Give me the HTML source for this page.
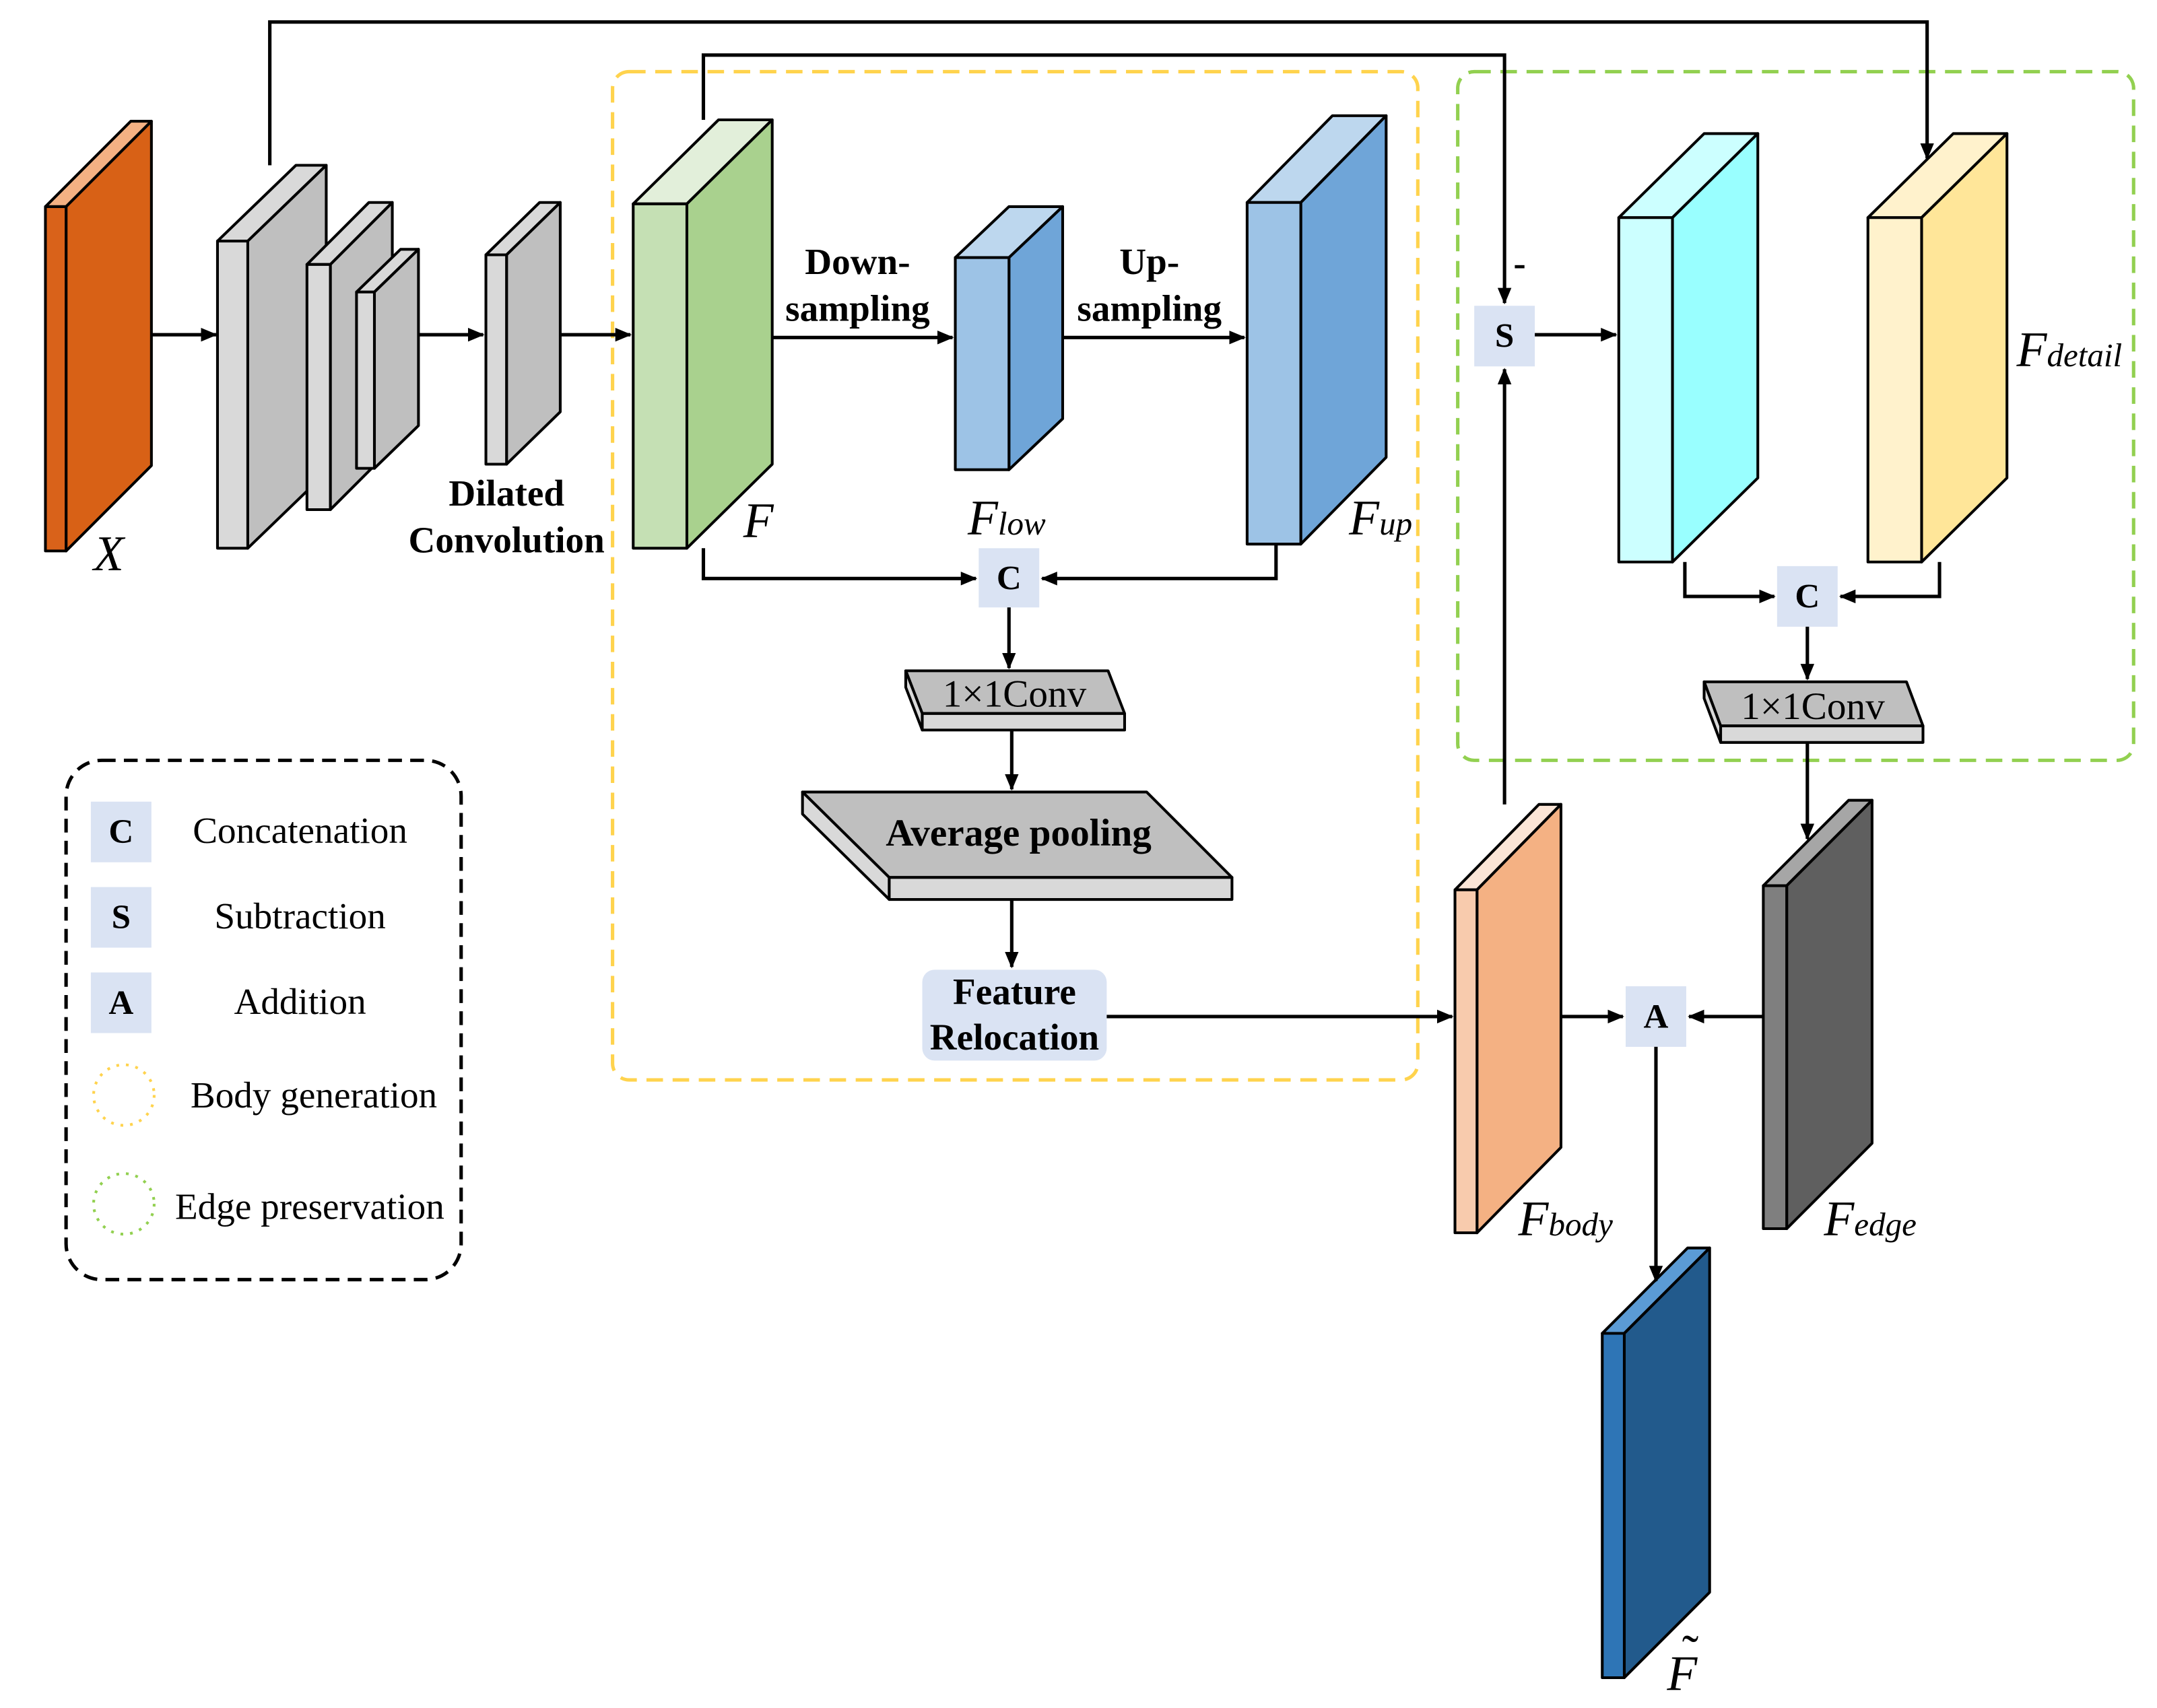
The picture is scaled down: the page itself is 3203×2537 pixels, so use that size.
<!DOCTYPE html>
<html><head><meta charset="utf-8"><style>html,body{margin:0;padding:0;background:#fff}svg{display:block}text{font-family:"Liberation Serif",serif}</style></head>
<body>
<svg width="3203" height="2537" viewBox="0 0 1567 1240" preserveAspectRatio="none" xmlns="http://www.w3.org/2000/svg">
<defs>
<marker id="a" markerWidth="12" markerHeight="10" refX="11" refY="5" orient="auto" markerUnits="userSpaceOnUse"><path d="M0,0 L12,5 L0,10 z" fill="#000"/></marker>
</defs>
<rect width="1567" height="1240" fill="#fff"/>
<rect x="445" y="52" width="585" height="732" rx="12" fill="none" stroke="#ffd34d" stroke-width="2.5" stroke-dasharray="12,7"/>
<rect x="1059" y="52" width="491" height="500" rx="12" fill="none" stroke="#92d050" stroke-width="2.5" stroke-dasharray="12,7"/>
<rect x="48" y="552" width="287" height="377" rx="26" fill="none" stroke="#000" stroke-width="2.5" stroke-dasharray="10,6"/>

<g stroke="#000" stroke-width="2" stroke-linejoin="round">
<polygon points="33,150 95,88 110,88 48,150" fill="#f4b183"/>
<polygon points="48,150 110,88 110,338 48,400" fill="#d86116"/>
<rect x="33" y="150" width="15" height="250" fill="#d9621a"/>
<polygon points="158,175 215,120 237,120 180,175" fill="#d9d9d9"/>
<polygon points="180,175 237,120 237,343 180,398" fill="#bfbfbf"/>
<rect x="158" y="175" width="22" height="223" fill="#d9d9d9"/>
<polygon points="223,192 268,147 285,147 240,192" fill="#d9d9d9"/>
<polygon points="240,192 285,147 285,325 240,370" fill="#bfbfbf"/>
<rect x="223" y="192" width="17" height="178" fill="#d9d9d9"/>
<polygon points="259,212 291,181 304,181 272,212" fill="#d9d9d9"/>
<polygon points="272,212 304,181 304,309 272,340" fill="#bfbfbf"/>
<rect x="259" y="212" width="13" height="128" fill="#d9d9d9"/>
<polygon points="353,185 392,147 407,147 368,185" fill="#d9d9d9"/>
<polygon points="368,185 407,147 407,299 368,337" fill="#bfbfbf"/>
<rect x="353" y="185" width="15" height="152" fill="#d9d9d9"/>
<polygon points="460,148 522,87 561,87 499,148" fill="#e2efda"/>
<polygon points="499,148 561,87 561,337 499,398" fill="#a9d18e"/>
<rect x="460" y="148" width="39" height="250" fill="#c5e0b4"/>
<polygon points="694,187 733,150 772,150 733,187" fill="#bdd7ee"/>
<polygon points="733,187 772,150 772,304 733,341" fill="#6fa5d8"/>
<rect x="694" y="187" width="39" height="154" fill="#9dc3e6"/>
<polygon points="906,147 968,84 1007,84 945,147" fill="#bdd7ee"/>
<polygon points="945,147 1007,84 1007,332 945,395" fill="#6fa5d8"/>
<rect x="906" y="147" width="39" height="248" fill="#9dc3e6"/>
<polygon points="1176,158 1238,97 1277,97 1215,158" fill="#ccffff"/>
<polygon points="1215,158 1277,97 1277,347 1215,408" fill="#99ffff"/>
<rect x="1176" y="158" width="39" height="250" fill="#ccffff"/>
<polygon points="1357,158 1419,97 1458,97 1396,158" fill="#fff2cc"/>
<polygon points="1396,158 1458,97 1458,347 1396,408" fill="#ffe699"/>
<rect x="1357" y="158" width="39" height="250" fill="#fff2cc"/>
<polygon points="1057,646 1118,584 1134,584 1073,646" fill="#fbe5d6"/>
<polygon points="1073,646 1134,584 1134,833 1073,895" fill="#f4b183"/>
<rect x="1057" y="646" width="16" height="249" fill="#f8cbad"/>
<polygon points="1281,643 1343,581 1360,581 1298,643" fill="#a6a6a6"/>
<polygon points="1298,643 1360,581 1360,830 1298,892" fill="#5f5f5f"/>
<rect x="1281" y="643" width="17" height="249" fill="#7f7f7f"/>
<polygon points="1164,968 1226,906 1242,906 1180,968" fill="#5b9bd5"/>
<polygon points="1180,968 1242,906 1242,1156 1180,1218" fill="#225a8c"/>
<rect x="1164" y="968" width="16" height="250" fill="#2e75b6"/>
<polygon points="658,487 805,487 817,518 670,518" fill="#bfbfbf"/>
<polygon points="658,487 670,518 670,530 658,499" fill="#d9d9d9"/>
<rect x="670" y="518" width="147" height="12" fill="#d9d9d9"/>
<polygon points="1238,495 1385,495 1397,527 1250,527" fill="#bfbfbf"/>
<polygon points="1238,495 1250,527 1250,539 1238,507" fill="#d9d9d9"/>
<rect x="1250" y="527" width="147" height="12" fill="#d9d9d9"/>
<polygon points="583,575 833,575 895,637 646,637" fill="#bfbfbf"/>
<polygon points="583,575 646,637 646,653 583,591" fill="#d9d9d9"/>
<rect x="646" y="637" width="249" height="16" fill="#d9d9d9"/>
</g>
<g fill="#dae3f3">
<rect x="711" y="398" width="44" height="43"/>
<rect x="1071" y="222" width="44" height="44"/>
<rect x="1291" y="411" width="44" height="44"/>
<rect x="1181" y="716" width="44" height="44"/>
<rect x="66" y="582" width="44" height="44"/>
<rect x="66" y="644" width="44" height="44"/>
<rect x="66" y="706" width="44" height="44"/>
<rect x="670" y="704" width="134" height="66" rx="9"/>
</g>
<circle cx="90" cy="795" r="22" fill="none" stroke="#ffd34d" stroke-width="2" stroke-dasharray="2,5"/>
<circle cx="90" cy="874" r="22" fill="none" stroke="#92d050" stroke-width="2" stroke-dasharray="2,5"/>

<g stroke="#000" stroke-width="2.5" fill="none" marker-end="url(#a)">
<path d="M110,243 H157"/>
<path d="M304,243 H351"/>
<path d="M407,243 H458"/>
<path d="M196,120 V16 H1400 V115"/>
<path d="M511,87 V40 H1093 V220"/>
<path d="M561,245 H692"/>
<path d="M772,245 H904"/>
<path d="M511,398 V420 H709"/>
<path d="M927,395 V420 H757"/>
<path d="M733,441 V485"/>
<path d="M735,530 V573"/>
<path d="M735,653 V702"/>
<path d="M804,738 H1055"/>
<path d="M1093,584 V268"/>
<path d="M1115,243 H1174"/>
<path d="M1224,408 V433 H1289"/>
<path d="M1409,408 V433 H1337"/>
<path d="M1313,455 V493"/>
<path d="M1313,539 V609"/>
<path d="M1134,738 H1179"/>
<path d="M1281,738 H1227"/>
<path d="M1203,760 V930"/>
</g>

<g font-weight="bold" font-size="27" text-anchor="middle" fill="#000">
<text x="623" y="199">Down-</text><text x="623" y="233">sampling</text>
<text x="835" y="199">Up-</text><text x="835" y="233">sampling</text>
<text x="368" y="367">Dilated</text><text x="368" y="401">Convolution</text>
<text x="740" y="614" font-size="28">Average pooling</text>
<text x="737" y="729">Feature</text><text x="737" y="762">Relocation</text>
<text x="733" y="428" font-size="25">C</text><text x="1093" y="252" font-size="25">S</text><text x="1313" y="441" font-size="25">C</text><text x="1203" y="746" font-size="25">A</text>
<text x="88" y="612" font-size="25">C</text><text x="88" y="674" font-size="25">S</text><text x="88" y="736" font-size="25">A</text>
<text x="1104" y="200">-</text>
</g>
<g font-size="28" text-anchor="middle">
<text x="737" y="513">1×1Conv</text><text x="1317" y="522">1×1Conv</text>
</g>
<g font-size="27" text-anchor="middle">
<text x="218" y="612">Concatenation</text>
<text x="218" y="674">Subtraction</text>
<text x="218" y="736">Addition</text>
<text x="228" y="804">Body generation</text>
<text x="225" y="885">Edge preservation</text>
</g>
<g font-style="italic" font-size="36">
<text x="68" y="414">X</text>
<text x="540" y="390">F</text>
<text x="703" y="388">F<tspan font-size="24">low</tspan></text>
<text x="980" y="388">F<tspan font-size="24">up</tspan></text>
<text x="1465" y="266">F<tspan font-size="24">detail</tspan></text>
<text x="1103" y="897">F<tspan font-size="24">body</tspan></text>
<text x="1325" y="897">F<tspan font-size="24">edge</tspan></text>
<text x="1211" y="1227">F</text>
<text x="1222" y="1212" font-size="36" font-style="normal">˜</text>
</g>
</svg>
</body></html>
